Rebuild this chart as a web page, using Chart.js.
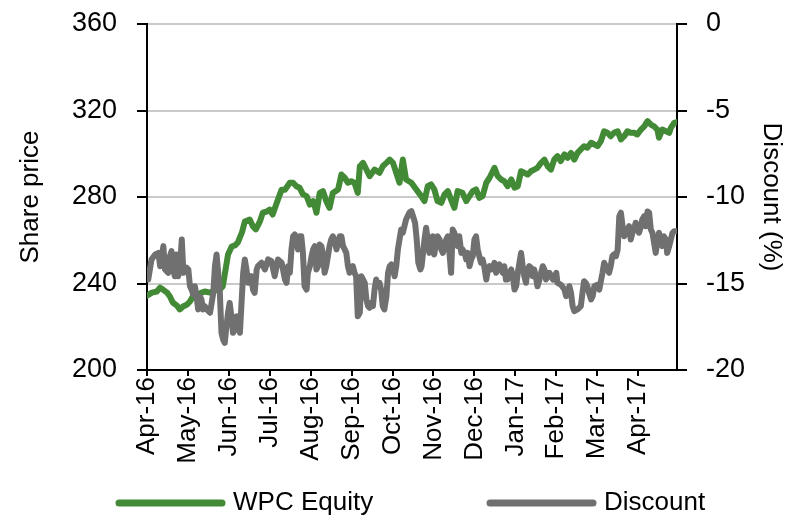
<!DOCTYPE html>
<html>
<head>
<meta charset="utf-8">
<script src="https://cdn.jsdelivr.net/npm/chart.js@4"></script>
<style>
  html, body { margin: 0; padding: 0; background: #fff; }
  #wrap { width: 800px; height: 530px; position: relative; }
</style>
</head>
<body>
<div id="wrap"><canvas id="chart"></canvas></div>
<script>
// month labels for the x axis (one tick per month, 0 = Apr-16)
const months = ['Apr-16', 'May-16', 'Jun-16', 'Jul-16', 'Aug-16', 'Sep-16', 'Oct-16',
                'Nov-16', 'Dec-16', 'Jan-17', 'Feb-17', 'Mar-17', 'Apr-17'];

// WPC Equity share price (x = months since Apr-16)
const priceX = [0.00, 0.12, 0.24, 0.32, 0.39, 0.49, 0.56, 0.63, 0.73, 0.80, 0.88, 0.98, 1.05, 1.12, 1.24, 1.34,
  1.41, 1.54, 1.66, 1.78, 1.85, 1.90, 1.98, 2.07, 2.15, 2.22, 2.32, 2.39, 2.51, 2.59, 2.66, 2.76,
  2.83, 2.93, 3.00, 3.07, 3.20, 3.29, 3.37, 3.49, 3.57, 3.65, 3.73, 3.81, 3.90, 3.98, 4.06, 4.10,
  4.14, 4.22, 4.30, 4.38, 4.46, 4.54, 4.67, 4.75, 4.83, 4.91, 4.99, 5.07, 5.15, 5.20, 5.28, 5.36,
  5.44, 5.56, 5.68, 5.76, 5.85, 5.93, 6.01, 6.09, 6.17, 6.25, 6.33, 6.46, 6.58, 6.70, 6.78, 6.86,
  6.94, 7.02, 7.10, 7.19, 7.27, 7.35, 7.43, 7.51, 7.59, 7.71, 7.80, 7.88, 7.96, 8.04, 8.12, 8.20,
  8.29, 8.37, 8.49, 8.57, 8.65, 8.73, 8.81, 8.90, 8.98, 9.06, 9.14, 9.22, 9.30, 9.38, 9.46, 9.54,
  9.63, 9.71, 9.79, 9.87, 9.95, 10.03, 10.11, 10.20, 10.28, 10.36, 10.44, 10.52, 10.60, 10.68, 10.76, 10.85,
  10.93, 11.01, 11.09, 11.17, 11.25, 11.33, 11.41, 11.50, 11.58, 11.66, 11.74, 11.82, 11.90, 11.98, 12.07, 12.15,
  12.23, 12.31, 12.39, 12.47, 12.51, 12.59, 12.68, 12.76, 12.80, 12.88, 12.94];
const priceY = [234.4, 235.8, 236.3, 238.1, 237.2, 235.8, 234.0, 231.2, 229.8, 228.0, 229.4, 230.3, 231.7, 234.0, 234.9, 235.8,
  236.3, 235.8, 236.8, 237.2, 238.6, 244.2, 253.4, 257.1, 257.6, 259.0, 263.6, 268.7, 269.6, 266.4, 265.0, 268.7,
  272.8, 273.3, 274.2, 271.9, 278.8, 283.4, 283.4, 286.6, 286.6, 285.0, 284.3, 281.2, 280.4, 276.5, 278.1, 275.7,
  272.7, 281.9, 282.7, 278.1, 275.0, 281.9, 283.5, 290.4, 288.9, 286.6, 287.3, 286.6, 281.9, 294.2, 295.8, 292.7,
  289.6, 292.7, 291.2, 294.2, 295.8, 297.3, 295.8, 291.2, 286.6, 297.3, 288.1, 286.6, 283.5, 280.4, 278.1, 285.0,
  285.8, 283.5, 278.1, 277.3, 281.2, 282.7, 278.8, 275.0, 282.7, 281.9, 278.1, 280.4, 282.7, 283.5, 279.6, 280.4,
  286.6, 288.9, 293.5, 289.6, 288.1, 287.3, 285.0, 288.1, 284.3, 285.0, 291.9, 291.2, 290.4, 291.9, 292.7, 293.5,
  295.8, 297.3, 294.2, 292.7, 297.3, 298.9, 296.6, 299.7, 298.1, 300.4, 297.3, 300.4, 302.0, 303.5, 302.8, 305.1,
  304.3, 303.5, 305.8, 310.4, 309.7, 308.1, 309.7, 310.4, 306.6, 308.1, 310.4, 309.7, 309.7, 308.9, 311.2, 312.7,
  315.1, 313.5, 312.7, 311.2, 307.4, 311.2, 310.4, 309.7, 312.0, 314.3, 314.6];

// Discount (%) to NAV
const discX = [0.03, 0.07, 0.11, 0.20, 0.28, 0.32, 0.36, 0.40, 0.44, 0.52, 0.56, 0.60, 0.64, 0.68, 0.72, 0.76,
  0.80, 0.85, 0.89, 0.97, 1.01, 1.05, 1.09, 1.13, 1.17, 1.21, 1.25, 1.29, 1.33, 1.37, 1.41, 1.46,
  1.54, 1.58, 1.62, 1.66, 1.70, 1.74, 1.78, 1.82, 1.86, 1.90, 1.94, 1.98, 2.02, 2.07, 2.10, 2.15,
  2.19, 2.23, 2.27, 2.31, 2.35, 2.39, 2.43, 2.47, 2.51, 2.55, 2.59, 2.63, 2.68, 2.71, 2.80, 2.88,
  2.96, 3.04, 3.12, 3.20, 3.29, 3.37, 3.41, 3.45, 3.49, 3.53, 3.57, 3.61, 3.65, 3.69, 3.73, 3.77,
  3.81, 3.85, 3.90, 3.93, 3.98, 4.02, 4.06, 4.10, 4.14, 4.18, 4.22, 4.26, 4.30, 4.34, 4.38, 4.42,
  4.46, 4.50, 4.54, 4.59, 4.63, 4.67, 4.71, 4.75, 4.79, 4.83, 4.87, 4.91, 4.95, 4.99, 5.03, 5.07,
  5.11, 5.15, 5.20, 5.24, 5.28, 5.32, 5.36, 5.40, 5.44, 5.48, 5.52, 5.56, 5.60, 5.64, 5.68, 5.72,
  5.76, 5.80, 5.85, 5.89, 5.93, 5.97, 6.01, 6.05, 6.09, 6.13, 6.17, 6.21, 6.25, 6.29, 6.33, 6.37,
  6.41, 6.46, 6.50, 6.55, 6.59, 6.63, 6.68, 6.71, 6.78, 6.82, 6.86, 6.90, 6.94, 6.98, 7.02, 7.07,
  7.10, 7.15, 7.19, 7.23, 7.27, 7.31, 7.35, 7.39, 7.43, 7.47, 7.51, 7.55, 7.59, 7.63, 7.68, 7.71,
  7.76, 7.80, 7.84, 7.88, 7.92, 7.96, 8.00, 8.04, 8.08, 8.12, 8.16, 8.20, 8.24, 8.29, 8.33, 8.37,
  8.41, 8.45, 8.49, 8.53, 8.57, 8.61, 8.65, 8.69, 8.73, 8.77, 8.81, 8.85, 8.90, 8.94, 8.98, 9.02,
  9.06, 9.10, 9.14, 9.18, 9.22, 9.26, 9.30, 9.34, 9.38, 9.42, 9.46, 9.50, 9.54, 9.59, 9.63, 9.67,
  9.71, 9.75, 9.79, 9.83, 9.92, 10.00, 10.03, 10.11, 10.20, 10.24, 10.28, 10.32, 10.36, 10.40, 10.44, 10.52,
  10.60, 10.64, 10.68, 10.72, 10.76, 10.80, 10.85, 10.89, 10.93, 11.01, 11.05, 11.13, 11.17, 11.21, 11.25, 11.29,
  11.33, 11.37, 11.41, 11.46, 11.50, 11.54, 11.58, 11.62, 11.66, 11.70, 11.78, 11.82, 11.86, 11.90, 11.94, 11.98,
  12.02, 12.07, 12.10, 12.15, 12.19, 12.23, 12.27, 12.31, 12.35, 12.39, 12.43, 12.47, 12.51, 12.55, 12.59, 12.63,
  12.68, 12.71, 12.76, 12.80, 12.84, 12.88, 12.94];
const discY = [-14.77, -14.19, -13.61, -13.32, -13.23, -14.00, -13.51, -12.84, -14.19, -14.38, -13.42, -13.13, -14.19, -14.58, -13.32, -14.58,
  -14.19, -12.46, -14.38, -14.09, -14.19, -15.16, -15.35, -15.64, -15.16, -15.73, -16.50, -15.73, -15.92, -16.50, -16.31, -16.50,
  -16.69, -16.12, -15.54, -14.00, -13.32, -14.38, -15.54, -17.85, -18.24, -18.43, -17.47, -16.69, -16.12, -17.08, -17.85, -17.66,
  -16.89, -17.27, -17.85, -16.12, -14.38, -13.61, -14.19, -14.96, -14.77, -14.58, -15.35, -15.54, -14.19, -14.00, -13.80, -14.19,
  -13.61, -13.71, -14.58, -13.61, -13.80, -14.77, -14.96, -14.00, -14.38, -13.03, -12.27, -12.17, -12.46, -13.03, -12.27, -12.27,
  -13.23, -15.16, -15.35, -14.38, -14.00, -13.42, -13.03, -12.84, -14.19, -14.00, -12.75, -12.84, -13.32, -14.38, -14.00, -13.42,
  -12.84, -12.46, -12.27, -12.55, -13.03, -12.65, -12.27, -12.27, -12.84, -13.03, -13.23, -14.00, -14.38, -14.19, -14.00, -14.38,
  -14.58, -16.89, -16.69, -14.58, -14.77, -14.96, -15.92, -16.31, -16.40, -16.12, -16.31, -15.35, -14.77, -15.16, -14.96, -15.35,
  -16.31, -16.50, -15.73, -14.38, -14.00, -13.90, -14.19, -14.58, -14.00, -13.03, -12.46, -11.88, -12.07, -11.69, -11.30, -11.11,
  -10.91, -10.82, -11.11, -11.49, -12.46, -13.80, -14.19, -14.00, -12.46, -11.78, -12.46, -13.23, -12.84, -12.27, -13.32, -12.46,
  -12.27, -12.46, -13.03, -13.23, -12.84, -12.46, -12.27, -13.23, -14.38, -11.88, -12.07, -12.46, -12.84, -12.27, -13.23, -13.03,
  -13.23, -13.61, -13.23, -14.00, -13.61, -13.42, -12.46, -12.27, -13.03, -13.42, -13.80, -13.61, -14.00, -14.77, -14.19, -14.00,
  -14.19, -14.09, -13.80, -14.38, -14.00, -13.90, -14.19, -14.38, -14.00, -14.77, -14.77, -14.38, -14.19, -14.58, -15.35, -15.16,
  -14.38, -13.80, -13.23, -14.00, -14.58, -14.96, -14.19, -14.00, -14.09, -14.58, -14.19, -14.58, -15.16, -14.77, -14.38, -14.00,
  -14.19, -14.77, -14.58, -14.38, -14.77, -14.38, -14.96, -15.06, -15.35, -15.73, -15.54, -15.16, -15.54, -16.31, -16.60, -16.50,
  -16.31, -15.54, -14.87, -14.96, -15.16, -15.54, -15.92, -15.73, -15.16, -15.06, -15.35, -14.38, -13.80, -14.00, -14.19, -14.38,
  -14.00, -13.42, -13.32, -13.42, -13.03, -11.11, -10.91, -11.69, -12.27, -12.07, -11.69, -12.46, -12.07, -11.88, -11.49, -11.69,
  -12.07, -11.69, -11.30, -11.11, -11.69, -10.84, -10.91, -11.88, -12.07, -12.65, -13.23, -12.65, -12.07, -12.46, -12.84, -12.27,
  -12.46, -13.23, -12.84, -12.46, -12.07, -11.98, -11.98];

const FONT = { family: "'Liberation Sans', Arial, sans-serif", size: 26 };
const TICK_FONT = { family: "'Liberation Sans', Arial, sans-serif", size: 27 };

// simple line-style legend drawn under the plot
const lineLegend = {
    id: 'lineLegend',
    afterDraw(chart) {
        const ctx = chart.ctx;
        const spots = [116, 487];
        const y = 503;
        ctx.save();
        chart.data.datasets.forEach((ds, i) => {
            const x = spots[i];
            ctx.strokeStyle = ds.borderColor;
            ctx.lineWidth = 7;
            ctx.lineCap = 'round';
            ctx.beginPath();
            ctx.moveTo(x + 3, y);
            ctx.lineTo(x + 106, y);
            ctx.stroke();
            ctx.fillStyle = '#000';
            ctx.font = `${FONT.size}px ${FONT.family}`;
            ctx.textBaseline = 'middle';
            ctx.textAlign = 'left';
            ctx.fillText(ds.label, x + 117, y);
        });
        ctx.restore();
    }
};

// fixed axis sizes so the plot box sits where the original one does
function fixVertical(width) {
    return function (scale) {
        scale.width = width;
        scale.paddingTop = 0;
        scale.paddingBottom = 0;
    };
}

const ctx = document.getElementById('chart').getContext('2d');
new Chart(ctx, {
    type: 'line',
    data: {
        datasets: [
            {
                label: 'WPC Equity',
                data: priceX.map((x, i) => ({ x: x, y: priceY[i] })),
                borderColor: '#428a35',
                borderWidth: 6,
                yAxisID: 'y',
                order: 1
            },
            {
                label: 'Discount',
                data: discX.map((x, i) => ({ x: x, y: discY[i] })),
                borderColor: '#707070',
                borderWidth: 6,
                yAxisID: 'y1',
                order: 0
            }
        ]
    },
    options: {
        responsive: true,
        maintainAspectRatio: false,
        animation: false,
        layout: { padding: { top: 24, left: 0, right: 0, bottom: 0 } },
        elements: {
            point: { radius: 0 },
            line: { tension: 0, borderJoinStyle: 'round', borderCapStyle: 'round' }
        },
        plugins: { legend: { display: false }, tooltip: { enabled: false } },
        scales: {
            x: {
                type: 'linear',
                min: 0,
                max: 12.95,
                ticks: {
                    stepSize: 1,
                    includeBounds: false,
                    autoSkip: false,
                    minRotation: 90,
                    maxRotation: 90,
                    padding: 1,
                    color: '#000',
                    font: FONT,
                    callback: (v) => months[v] || ''
                },
                grid: { drawOnChartArea: false, color: '#000', lineWidth: 2, tickLength: 6 },
                border: { color: '#000', width: 2 },
                afterFit(scale) { scale.height = 160; }
            },
            y: {
                position: 'left',
                min: 200,
                max: 360,
                ticks: { stepSize: 40, padding: 20, color: '#000', font: TICK_FONT },
                grid: {
                    color: (c) => (c.tick && c.tick.value === 200 ? 'rgba(0,0,0,0)' : '#cacaca'),
                    lineWidth: 2,
                    tickColor: '#000',
                    tickLength: 10
                },
                border: { color: '#000', width: 2 },
                title: { display: true, text: 'Share price', color: '#000', font: FONT, padding: { top: 15, bottom: 0 } },
                afterFit: fixVertical(147)
            },
            y1: {
                position: 'right',
                min: -20,
                max: 0,
                ticks: { stepSize: 5, padding: 19, color: '#000', font: TICK_FONT },
                grid: { drawOnChartArea: false, color: '#000', lineWidth: 2, tickLength: 10 },
                border: { color: '#000', width: 2 },
                title: { display: true, text: 'Discount (%)', color: '#000', font: FONT, padding: { top: 13, bottom: 0 } },
                afterFit: fixVertical(123)
            }
        }
    },
    plugins: [lineLegend]
});
</script>
</body>
</html>
